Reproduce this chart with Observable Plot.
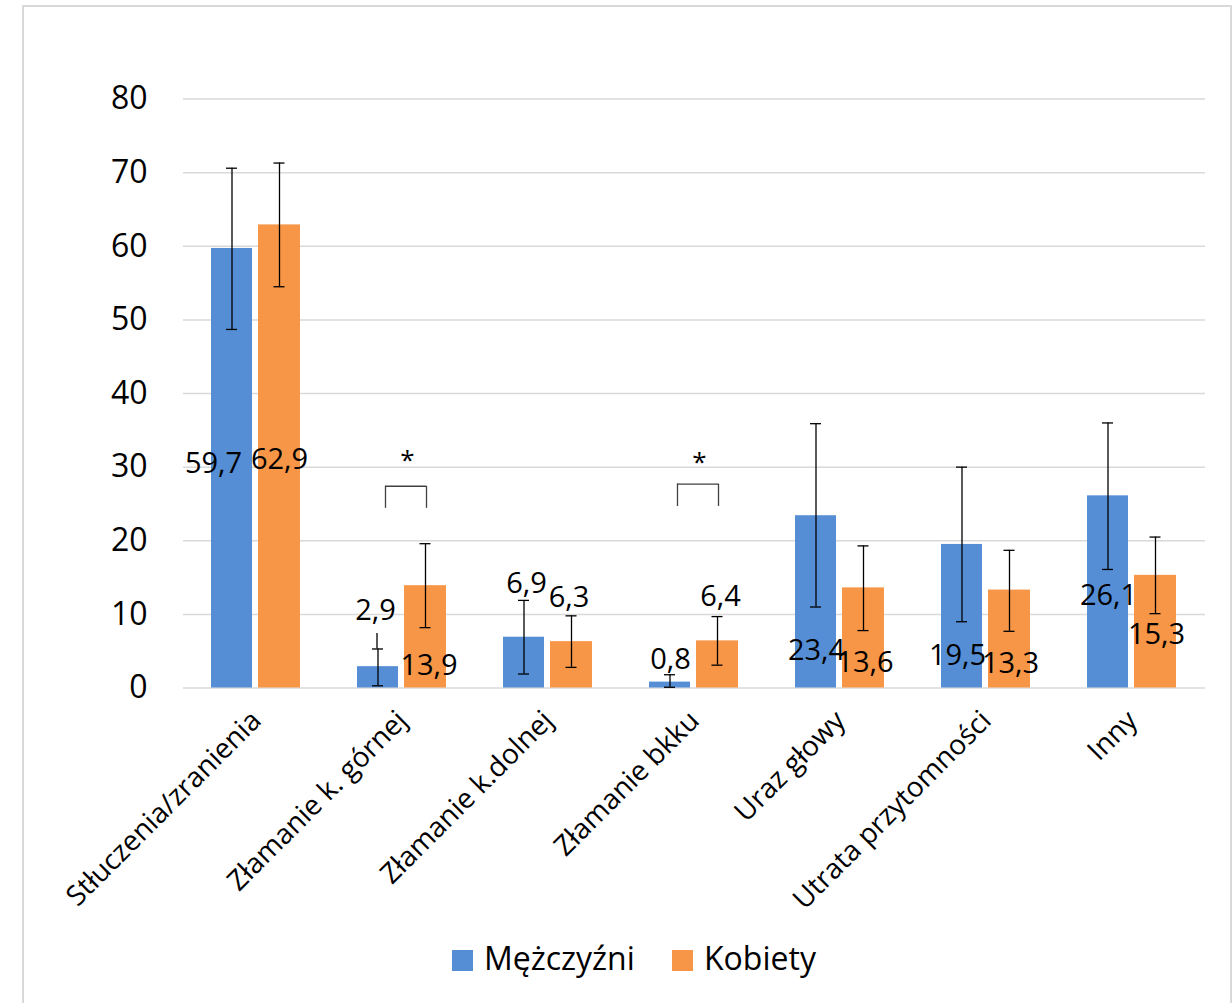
<!DOCTYPE html>
<html><head><meta charset="utf-8">
<script src="https://cdn.jsdelivr.net/npm/d3@7"></script>
<script src="https://cdn.jsdelivr.net/npm/@observablehq/plot@0.6"></script>
<style>
html,body{margin:0;padding:0;background:#fff;overflow:hidden;}
#wrap{position:relative;width:1232px;height:1003px;font-family:"Open Sans",sans-serif;}
#frame{position:absolute;left:22px;top:5px;width:1206px;height:1100px;border:2px solid #d9d9d9;z-index:5;pointer-events:none;}
#chart{position:absolute;left:0;top:0;}
#legend{position:absolute;left:0;top:940px;width:1232px;height:60px;}
.item{position:absolute;top:0;height:40px;font-size:32px;line-height:1;color:#000;}
.sw{position:absolute;left:0;top:10px;width:21px;height:21px;}
.lab{position:absolute;left:32px;top:2px;white-space:nowrap;}
</style></head>
<body><div id="wrap"><div id="chart"></div><div id="legend"></div><div id="frame"></div></div>
<script>
const categories = ["Stłuczenia/zranienia","Złamanie k. górnej","Złamanie k.dolnej","Złamanie bkku","Uraz głowy","Utrata przytomności","Inny"];
const seriesNames = ["Mężczyźni","Kobiety"];
const menValues   = [59.7, 2.9, 6.9, 0.8, 23.4, 19.5, 26.1];
const womenValues = [62.9, 13.9, 6.3, 6.4, 13.6, 13.3, 15.3];
const menLow      = [48.7, 0.3, 1.9, 0.1, 11.0, 9.0, 16.1];
const menHigh     = [70.6, 5.3, 11.9, 1.8, 35.9, 30.0, 36.0];
const womenLow    = [54.5, 8.2, 2.8, 3.1, 7.8, 7.7, 10.1];
const womenHigh   = [71.3, 19.6, 9.8, 9.7, 19.3, 18.7, 20.5];
const yTicks = [0, 10, 20, 30, 40, 50, 60, 70, 80];
const sigCategories = ["Złamanie k. górnej", "Złamanie bkku"];
const sigMark = "*";

const colors = {"Mężczyźni": "#558ED5", "Kobiety": "#F79646"};

// layout: label anchors (in y units) and horizontal pixel offsets
const menLabelY   = [30.4, 10.5, 14.1, 3.9, 5.1, 4.4, 12.6];
const womenLabelY = [31.0, 3.0, 12.3, 12.4, 3.5, 3.3, 7.3];
const menLabelDx   = [-43, -27, -22, -24, -24, -29, -24];
const womenLabelDx = [23, 26.5, 20.5, 26, 24.5, 24, 24];
const bracketTop = [27.4, 27.7];
const bracketBottom = [24.4, 24.65];
const starY = [30.9, 30.6];

const fmt = v => v.toFixed(1).replace(".", ",");

const men = categories.map((c, i) => ({cat: c, series: seriesNames[0], value: menValues[i], low: menLow[i], high: menHigh[i], ly: menLabelY[i], dx: menLabelDx[i]}));
const women = categories.map((c, i) => ({cat: c, series: seriesNames[1], value: womenValues[i], low: womenLow[i], high: womenHigh[i], ly: womenLabelY[i], dx: womenLabelDx[i]}));
const sig = sigCategories.map((c, i) => ({cat: c, top: bracketTop[i], bottom: bracketBottom[i], sy: starY[i]}));

const errW = 1.3;
const labelMarks = [...men, ...women].map(d => Plot.text([d], {x: "cat", y: "ly", text: r => fmt(r.value), dx: d.dx, fontSize: 29, fill: "#000"}));

const chart = Plot.plot({
  width: 1232,
  height: 940,
  marginLeft: 183,
  marginRight: 27,
  marginTop: 98.5,
  marginBottom: 252.5,
  style: {fontFamily: "Open Sans", background: "transparent", color: "#000", overflow: "visible"},
  x: {domain: categories, padding: 0},
  y: {domain: [0, 80]},
  marks: [
    Plot.gridY(yTicks, {stroke: "#d9d9d9", strokeOpacity: 1, strokeWidth: 1.5}),
    Plot.axisY({ticks: yTicks, tickSize: 0, tickPadding: 36, fontSize: 32, label: null, tickFormat: d => String(d)}),
    Plot.axisX({tickRotate: -45, tickSize: 0, tickPadding: 28, fontSize: 28, label: null}),
    Plot.barY(men, {x: "cat", y: "value", fill: colors["Mężczyźni"], insetLeft: 28, insetRight: 77}),
    Plot.barY(women, {x: "cat", y: "value", fill: colors["Kobiety"], insetLeft: 75, insetRight: 29}),
    Plot.ruleX(men, {x: "cat", y1: "low", y2: "high", dx: -24.5, stroke: "#000", strokeWidth: errW}),
    Plot.ruleX(women, {x: "cat", y1: "low", y2: "high", dx: 23, stroke: "#000", strokeWidth: errW}),
    Plot.tickY(men, {x: "cat", y: "high", insetLeft: 43, insetRight: 92, stroke: "#000", strokeWidth: errW}),
    Plot.tickY(men, {x: "cat", y: "low", insetLeft: 43, insetRight: 92, stroke: "#000", strokeWidth: errW}),
    Plot.tickY(women, {x: "cat", y: "high", insetLeft: 90.5, insetRight: 44.5, stroke: "#000", strokeWidth: errW}),
    Plot.tickY(women, {x: "cat", y: "low", insetLeft: 90.5, insetRight: 44.5, stroke: "#000", strokeWidth: errW}),
    // leader line for 2,9
    Plot.ruleX([men[1]], {x: "cat", y1: d => d.high, y2: d => d.ly - 3.1, dx: -25.5, stroke: "#000", strokeWidth: errW}),
    // significance brackets
    Plot.tickY(sig, {x: "cat", y: "top", insetLeft: 56, insetRight: 49, stroke: "#404040", strokeWidth: 1.3}),
    Plot.ruleX(sig, {x: "cat", y1: "bottom", y2: "top", dx: -17, stroke: "#404040", strokeWidth: 1.3}),
    Plot.ruleX(sig, {x: "cat", y1: "bottom", y2: "top", dx: 24, stroke: "#404040", strokeWidth: 1.3}),
    Plot.text(sig, {x: "cat", y: "sy", text: () => sigMark, dx: 5, fontSize: 26, fill: "#000"}),
    ...labelMarks
  ]
});
document.getElementById("chart").appendChild(chart);

const legend = document.getElementById("legend");
const legendLeft = {"Mężczyźni": 452, "Kobiety": 672};
seriesNames.forEach(s => {
  const it = document.createElement("div");
  it.className = "item";
  it.style.left = legendLeft[s] + "px";
  const sw = document.createElement("div");
  sw.className = "sw";
  sw.style.background = colors[s];
  const lb = document.createElement("div");
  lb.className = "lab";
  lb.textContent = s;
  it.appendChild(sw); it.appendChild(lb);
  legend.appendChild(it);
});
</script>
</body></html>
